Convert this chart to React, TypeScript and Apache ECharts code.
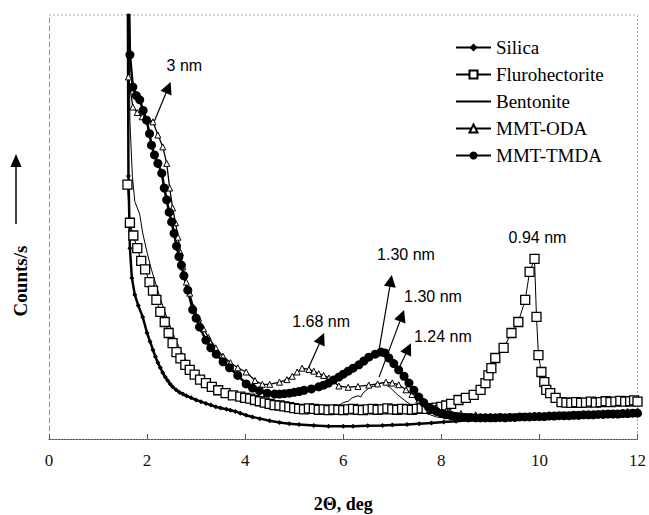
import React, { useEffect, useRef } from "react";
import * as echarts from "echarts";

const SERIF = '"Liberation Serif", "Times New Roman", serif';
const SANS = '"Liberation Sans", Arial, sans-serif';

const silica: [number, number][] = [
  [1.6, 130], [1.62, 62], [1.65, 45], [1.69, 38], [1.75, 34], [1.82, 31.5], [1.91, 28.8], [2.0, 25],
  [2.06, 23], [2.12, 21], [2.17, 19.4], [2.22, 18], [2.27, 16.8], [2.32, 15.6], [2.37, 14.6], [2.42, 13.8],
  [2.47, 13], [2.52, 12.3], [2.59, 11.6], [2.66, 11], [2.73, 10.6], [2.8, 10.2], [2.9, 9.7], [3.0, 9.2],
  [3.1, 8.8], [3.2, 8.4], [3.3, 8.0], [3.4, 7.6], [3.5, 7.3], [3.62, 7], [3.7, 6.8], [3.8, 6.5],
  [3.9, 6.1], [4.02, 5.6], [4.15, 5.2], [4.3, 4.8], [4.5, 4.3], [4.7, 3.9], [4.9, 3.6], [5.1, 3.4],
  [5.4, 3.2], [5.7, 3], [6.0, 3], [6.2, 3], [6.5, 3.1], [6.8, 3.2], [7.0, 3.3], [7.3, 3.4],
  [7.55, 3.6], [7.8, 3.8], [8.05, 4.0], [8.3, 4.2], [8.55, 4.4], [8.8, 4.5], [9.05, 4.6], [9.3, 4.7],
  [9.55, 4.8], [9.8, 4.9], [10.05, 5.0], [10.3, 5.1], [10.55, 5.2], [10.8, 5.3], [11.05, 5.4], [11.3, 5.6],
  [11.55, 5.7], [11.8, 5.9], [12.0, 6.0],
];

const fluro: [number, number][] = [
  [1.6, 60], [1.65, 51], [1.72, 48], [1.8, 45], [1.88, 42], [1.96, 40], [2.05, 37], [2.12, 35],
  [2.19, 32.8], [2.27, 30], [2.36, 27.6], [2.44, 25], [2.52, 22.6], [2.6, 20.5], [2.68, 19], [2.78, 17.5],
  [2.87, 16.3], [2.97, 15.2], [3.08, 14], [3.2, 13.2], [3.32, 12.3], [3.45, 11.5], [3.6, 10.8], [3.75, 10.3],
  [3.9, 10], [4.0, 9.7], [4.1, 9.5], [4.2, 9.2], [4.3, 8.9], [4.4, 8.6], [4.5, 8.3], [4.6, 8.0],
  [4.7, 7.9], [4.8, 7.7], [4.9, 7.5], [5.0, 7.3], [5.1, 7.1], [5.2, 7.0], [5.3, 7.2], [5.4, 7.1],
  [5.5, 6.9], [5.6, 7.0], [5.7, 6.8], [5.8, 7.0], [5.9, 6.9], [6.0, 6.8], [6.1, 7.0], [6.2, 7.1],
  [6.3, 6.9], [6.4, 6.8], [6.5, 7.0], [6.6, 7.1], [6.7, 6.9], [6.8, 7.0], [6.9, 7.2], [7.0, 7.0],
  [7.1, 6.9], [7.2, 7.1], [7.3, 7.0], [7.4, 6.9], [7.5, 7.1], [7.6, 7.2], [7.7, 7.1], [7.8, 7.3],
  [7.9, 7.4], [8.0, 7.6], [8.1, 7.9], [8.2, 8.3], [8.35, 9.2], [8.5, 9.7], [8.66, 10.4], [8.8, 11.6],
  [8.9, 13.2], [8.96, 15], [9.02, 16.7], [9.1, 19.1], [9.27, 21.5], [9.43, 25], [9.57, 27.6], [9.71, 32.8],
  [9.8, 39.4], [9.9, 42.5], [9.94, 28.8], [9.98, 19.8], [10.04, 15.8], [10.1, 13.4], [10.14, 11.6], [10.22, 10.8],
  [10.33, 9.7], [10.45, 8.7], [10.55, 8.6], [10.65, 8.5], [10.75, 8.7], [10.85, 8.5], [10.95, 8.6], [11.05, 8.8],
  [11.15, 8.6], [11.25, 8.7], [11.35, 8.9], [11.45, 8.7], [11.55, 8.8], [11.65, 9.0], [11.75, 8.8], [11.85, 8.9],
  [11.93, 9.1], [12.0, 8.8],
];

const bentonite: [number, number][] = [
  [1.6, 130], [1.65, 75], [1.7, 62], [1.75, 56], [1.85, 53], [1.91, 48.6], [2.0, 44], [2.09, 39.9],
  [2.18, 36.5], [2.26, 33.5], [2.36, 30], [2.46, 27], [2.56, 24], [2.68, 21], [2.8, 18.5], [2.95, 16.5],
  [3.1, 14.8], [3.3, 13], [3.5, 11.6], [3.7, 10.6], [3.9, 9.8], [4.1, 9], [4.4, 8.2], [4.7, 7.6],
  [5.0, 7.1], [5.3, 6.8], [5.5, 7.0], [5.65, 7.3], [5.8, 8], [5.9, 7.8], [6.0, 8.6], [6.1, 8.9],
  [6.18, 9.7], [6.3, 10.2], [6.36, 9.9], [6.4, 10.8], [6.52, 12], [6.65, 12.6], [6.8, 13.3], [6.95, 12.2],
  [7.1, 10.5], [7.3, 8.7], [7.5, 7.2], [7.7, 6], [7.9, 5.2], [8.2, 4.8], [8.6, 4.7], [9.0, 4.8],
  [9.5, 5], [10.0, 5.2], [10.5, 5.4], [11.0, 5.6], [11.5, 5.9], [12.0, 6.2],
];

const mmtOda: [number, number][] = [
  [1.6, 130], [1.62, 85.4], [1.71, 78.3], [1.8, 77], [1.9, 76], [2.0, 75.5], [2.12, 74.8], [2.22, 71.7],
  [2.32, 68.9], [2.4, 65], [2.46, 59.2], [2.52, 54.5], [2.58, 51], [2.63, 47.6], [2.68, 44], [2.73, 40.6],
  [2.8, 37], [2.87, 34.4], [2.95, 31], [3.05, 28.5], [3.15, 26], [3.25, 24], [3.4, 21.5], [3.55, 19.5],
  [3.7, 18], [3.85, 16.8], [4.02, 15.8], [4.2, 13.8], [4.35, 12.9], [4.5, 12.9], [4.7, 13.4], [4.85, 14],
  [4.96, 14.8], [5.06, 15.8], [5.16, 16.7], [5.3, 16.4], [5.4, 16], [5.5, 15.4], [5.6, 15], [5.71, 14.4],
  [5.91, 12.5], [6.1, 12.2], [6.3, 12.4], [6.52, 12.7], [6.7, 13], [6.87, 13.4], [7.0, 13.2], [7.13, 12.8],
  [7.28, 11.6], [7.4, 10.5], [7.54, 9.2], [7.7, 8.2], [7.89, 7.4], [8.1, 6.6], [8.4, 6], [8.7, 5.7],
  [9.0, 5.3], [9.17, 5], [9.4, 5.3], [9.8, 5.5], [10.3, 5.7], [10.8, 5.9], [11.3, 6.2], [11.8, 6.5],
  [12.0, 6.6],
];

const mmtTmda: [number, number][] = [
  [1.6, 130], [1.65, 90.6], [1.71, 83], [1.78, 81], [1.85, 80], [1.92, 77.5], [1.99, 75.2], [2.05, 72],
  [2.09, 69.3], [2.15, 67], [2.22, 65], [2.3, 62.7], [2.35, 59.2], [2.4, 56.4], [2.45, 53.5], [2.5, 51.2],
  [2.55, 48.5], [2.6, 45.5], [2.65, 43], [2.7, 41], [2.75, 38.5], [2.83, 35.1], [2.93, 30.5], [3.0, 28.5],
  [3.07, 26.4], [3.2, 23.3], [3.3, 21.5], [3.41, 20], [3.55, 18.2], [3.68, 16.8], [3.85, 15], [4.02, 13],
  [4.15, 12], [4.29, 11.4], [4.45, 10.8], [4.6, 10.6], [4.7, 10.6], [4.8, 10.7], [4.9, 10.8], [5.0, 11],
  [5.1, 11.2], [5.2, 11.5], [5.35, 11.8], [5.5, 12.3], [5.6, 12.7], [5.7, 13.2], [5.8, 13.9], [5.91, 14.6],
  [6.0, 15.3], [6.1, 16], [6.2, 16.7], [6.32, 17.5], [6.42, 18.4], [6.52, 19.3], [6.65, 20], [6.77, 20.5],
  [6.85, 20.3], [6.93, 19.1], [7.03, 17.8], [7.13, 16.3], [7.24, 14.8], [7.34, 13.2], [7.44, 11.5], [7.54, 9.9],
  [7.64, 8.6], [7.74, 7.5], [7.82, 7.0], [7.9, 6.5], [8.0, 6.0], [8.09, 5.7], [8.2, 5.5], [8.3, 5.3],
  [8.4, 5.2], [8.5, 5.1], [8.6, 5.1], [8.7, 5.0], [8.8, 5.0], [8.9, 5.0], [9.0, 5], [9.1, 5.0],
  [9.2, 5.1], [9.3, 5.0], [9.4, 5.1], [9.5, 5.1], [9.6, 5.2], [9.7, 5.2], [9.8, 5.2], [9.9, 5.3],
  [10.0, 5.3], [10.1, 5.3], [10.2, 5.4], [10.3, 5.4], [10.4, 5.5], [10.5, 5.5], [10.6, 5.5], [10.7, 5.6],
  [10.8, 5.6], [10.9, 5.7], [11.0, 5.7], [11.1, 5.7], [11.2, 5.8], [11.3, 5.8], [11.4, 5.9], [11.5, 5.9],
  [11.6, 5.9], [11.7, 6.0], [11.8, 6.0], [11.9, 6.1], [12.0, 6.1],
];

const annotLabels = ["3 nm", "1.30 nm", "1.30 nm", "1.68 nm", "1.24 nm", "0.94 nm"];
const annotTextPos: [number, number][] = [
  [2.76, 88.0], [7.28, 43.4], [7.83, 33.7], [5.55, 27.8], [8.03, 24.1], [9.96, 47.6],
];
const arrowTail: [number, number][] = [
  [2.15, 75.0], [6.73, 21.0], [6.73, 14.6], [5.3, 17.0], [7.09, 15.6],
];
const arrowTip: [number, number][] = [
  [2.48, 84.2], [6.99, 38.7], [7.24, 30.4], [5.61, 25.0], [7.38, 22.6],
];

export default function App() {
  const ref = useRef<HTMLDivElement>(null);
  useEffect(() => {
    const chart = echarts.init(ref.current!, null, { renderer: "svg" });
    chart.setOption({
      animation: false,
      backgroundColor: "#fff",
      grid: { left: 49, top: 15, right: 10, bottom: 76 },
      legend: {
        orient: "vertical",
        left: 455,
        top: 38,
        padding: 0,
        itemWidth: 35,
        itemHeight: 10,
        itemGap: 8,
        textStyle: { fontFamily: SERIF, fontSize: 19, color: "#000" },
        data: [
          "Silica",
          "Flurohectorite",
          {
            name: "Bentonite",
            itemStyle: { color: "rgba(0,0,0,0)", borderColor: "rgba(0,0,0,0)", borderWidth: 0 },
          },
          "MMT-ODA",
          "MMT-TMDA",
        ],
      },
      xAxis: {
        type: "value",
        min: 0,
        max: 12,
        interval: 2,
        axisLine: { show: true, lineStyle: { color: "#555", width: 1, type: [2, 1] } },
        axisTick: { show: true, inside: true, length: 5, lineStyle: { color: "#555" } },
        axisLabel: { fontFamily: SERIF, fontSize: 17, color: "#111", margin: 13 },
        splitLine: { show: false },
      },
      yAxis: {
        type: "value",
        min: 0,
        max: 100,
        axisLine: { show: true, lineStyle: { color: "#999", width: 1, type: [5, 3] } },
        axisTick: { show: false },
        axisLabel: { show: false },
        splitLine: { show: false },
      },
      series: [
        {
          name: "Silica", type: "line", data: silica, clip: true,
          symbol: "diamond", symbolSize: 5, showAllSymbol: true,
          itemStyle: { color: "#000" }, lineStyle: { color: "#000", width: 2.5 },
        },
        {
          name: "Flurohectorite", type: "line", data: fluro, clip: true,
          symbol: "rect", symbolSize: 9, showAllSymbol: true,
          itemStyle: { color: "#fff", borderColor: "#000", borderWidth: 1.3 },
          lineStyle: { color: "#000", width: 1 },
        },
        {
          name: "Bentonite", type: "line", data: bentonite, clip: true,
          symbol: "none", itemStyle: { color: "#000" }, lineStyle: { color: "#000", width: 1 },
        },
        {
          name: "MMT-ODA", type: "line", data: mmtOda, clip: true,
          symbol: "triangle", symbolSize: 6, showAllSymbol: true,
          itemStyle: { color: "#fff", borderColor: "#000", borderWidth: 1 },
          lineStyle: { color: "#000", width: 1.3 },
        },
        {
          name: "MMT-TMDA", type: "line", data: mmtTmda, clip: true,
          symbol: "circle", symbolSize: 9, showAllSymbol: true,
          itemStyle: { color: "#000" }, lineStyle: { color: "#000", width: 2.5 },
        },
      ],
    });

    const px = (p: [number, number]) => chart.convertToPixel({ gridIndex: 0 }, p) as number[];
    const g: any[] = [];
    const a0 = px([0, 0]);
    const a1 = px([12, 100]);
    g.push({
      type: "line", silent: true,
      shape: { x1: a0[0], y1: a1[1], x2: a1[0], y2: a1[1] },
      style: { stroke: "#aaa", lineWidth: 1, lineDash: [2, 2] },
    });
    g.push({
      type: "line", silent: true,
      shape: { x1: a1[0], y1: a1[1], x2: a1[0], y2: a0[1] },
      style: { stroke: "#aaa", lineWidth: 1, lineDash: [2, 2] },
    });
    annotLabels.forEach((t, i) => {
      const p = px(annotTextPos[i]);
      g.push({
        type: "text", x: p[0], y: p[1], silent: true,
        style: { text: t, fill: "#000", font: `16px ${SANS}`, align: "center", verticalAlign: "middle" },
      });
    });
    arrowTail.forEach((tail, i) => {
      const s = px(tail);
      const e = px(arrowTip[i]);
      const dx = e[0] - s[0];
      const dy = e[1] - s[1];
      const len = Math.sqrt(dx * dx + dy * dy);
      const ux = dx / len;
      const uy = dy / len;
      const hl = 12;
      const hw = 6;
      const bx = e[0] - ux * hl;
      const by = e[1] - uy * hl;
      g.push({
        type: "line", silent: true,
        shape: { x1: s[0], y1: s[1], x2: bx, y2: by },
        style: { stroke: "#000", lineWidth: 1.2 },
      });
      g.push({
        type: "polygon", silent: true,
        shape: { points: [[e[0], e[1]], [bx - uy * hw, by + ux * hw], [bx + uy * hw, by - ux * hw]] },
        style: { fill: "#000" },
      });
    });
    g.push({
      type: "text", x: 20, y: 281, rotation: Math.PI / 2, silent: true,
      style: { text: "Counts/s", fill: "#000", font: `bold 19px ${SERIF}`, align: "center", verticalAlign: "middle" },
    });
    g.push({
      type: "line", silent: true,
      shape: { x1: 16, y1: 224, x2: 16, y2: 166 },
      style: { stroke: "#000", lineWidth: 1.5 },
    });
    g.push({
      type: "polygon", silent: true,
      shape: { points: [[16, 154], [10.5, 167], [21.5, 167]] },
      style: { fill: "#000" },
    });
    g.push({
      type: "text", x: (a0[0] + a1[0]) / 2, y: 504, silent: true,
      style: { text: "2Θ, deg", fill: "#000", font: `bold 18px ${SERIF}`, align: "center", verticalAlign: "middle" },
    });
    chart.setOption({ graphic: g });
    return () => chart.dispose();
  }, []);
  return <div ref={ref} style={{ position: "absolute", left: 0, top: 0, width: 649, height: 515 }} />;
}
